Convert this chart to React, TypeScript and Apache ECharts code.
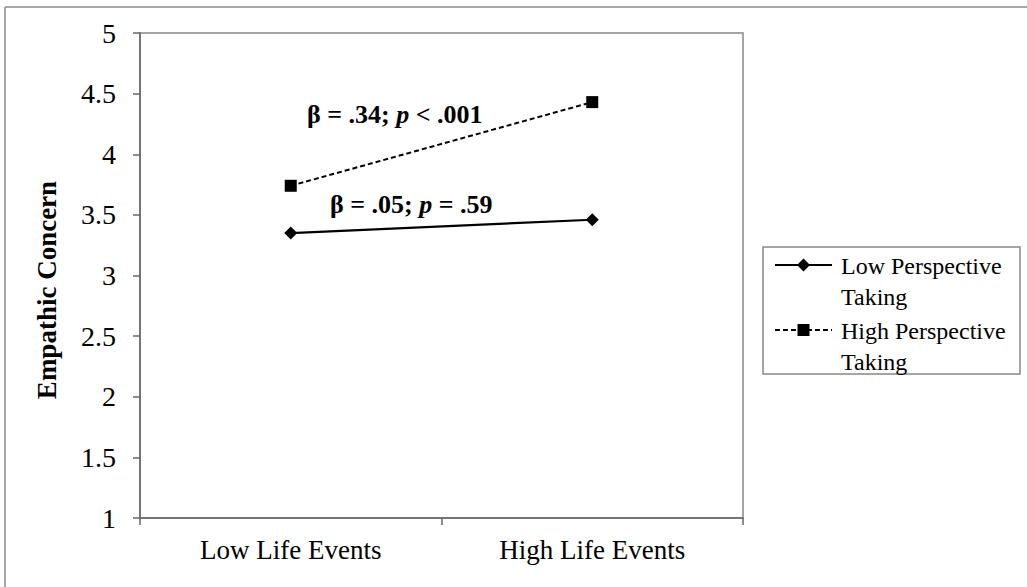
import React, { useEffect, useRef } from "react";
import * as echarts from "echarts";

const categories = ["Low Life Events", "High Life Events"];
const seriesNames = ["Low Perspective Taking", "High Perspective Taking"];
const legendLines = [["Low Perspective", "Taking"], ["High Perspective", "Taking"]];
const lowPT = [3.35, 3.46];
const highPT = [3.74, 4.43];
const yMin = 1;
const yMax = 5;
const yStep = 0.5;
const yAxisTitle = "Empathic Concern";
const annotations = [
  { beta: ".34", op: "<", p: ".001" },
  { beta: ".05", op: "=", p: ".59" },
];

const FONT = "'Liberation Serif', 'Times New Roman', serif";

export default function App() {
  const ref = useRef<HTMLDivElement>(null);
  useEffect(() => {
    if (!ref.current) return;
    const chart = echarts.init(ref.current, null, { renderer: "svg" });
    const rich = {
      b: { fontFamily: FONT, fontWeight: "bold", fontSize: 26, color: "#000" },
      i: { fontFamily: FONT, fontWeight: "bold", fontStyle: "italic", fontSize: 26, color: "#000" },
    };
    const annText = (a: { beta: string; op: string; p: string }) =>
      `{b|β = ${a.beta}; }{i|p}{b| ${a.op} ${a.p}}`;

    const legendX = 763;
    const legendY = 247;
    const rowY = [265, 330];
    const graphic: any[] = [
      { type: "line", shape: { x1: 5, y1: 7, x2: 1027, y2: 7 }, style: { stroke: "#888", lineWidth: 1.5 }, silent: true },
      { type: "line", shape: { x1: 5, y1: 7, x2: 5, y2: 587 }, style: { stroke: "#888", lineWidth: 1.5 }, silent: true },
      {
        type: "text",
        x: 47,
        y: 290,
        rotation: Math.PI / 2,
        style: {
          text: yAxisTitle,
          fontFamily: FONT,
          fontWeight: "bold",
          fontSize: 27,
          fill: "#000",
          align: "center",
          verticalAlign: "middle",
        },
      },
      {
        type: "text",
        x: 307,
        y: 114,
        style: { text: annText(annotations[0]), rich, verticalAlign: "middle", align: "left" },
      },
      {
        type: "text",
        x: 330,
        y: 204,
        style: { text: annText(annotations[1]), rich, verticalAlign: "middle", align: "left" },
      },
      {
        type: "rect",
        shape: { x: legendX, y: legendY, width: 257, height: 127 },
        style: { fill: "#fff", stroke: "#888", lineWidth: 1.5 },
      },
      { type: "line", shape: { x1: 775, y1: rowY[0], x2: 832, y2: rowY[0] }, style: { stroke: "#000", lineWidth: 2 } },
      {
        type: "polygon",
        shape: { points: [[803.5, rowY[0] - 6.5], [810, rowY[0]], [803.5, rowY[0] + 6.5], [797, rowY[0]]] },
        style: { fill: "#000" },
      },
      {
        type: "line",
        shape: { x1: 775, y1: rowY[1], x2: 832, y2: rowY[1] },
        style: { stroke: "#000", lineWidth: 2, lineDash: [5, 3] },
      },
      { type: "rect", shape: { x: 797.5, y: rowY[1] - 6, width: 12, height: 12 }, style: { fill: "#000" } },
    ];
    legendLines.forEach((lines, idx) => {
      lines.forEach((t, j) => {
        graphic.push({
          type: "text",
          x: 841,
          y: rowY[idx] + 1 + j * 31,
          style: { text: t, fontFamily: FONT, fontSize: 24, fill: "#000", verticalAlign: "middle", align: "left" },
        });
      });
    });

    chart.setOption({
      animation: false,
      backgroundColor: "#fff",
      grid: {
        left: 140,
        top: 33,
        right: 284,
        bottom: 69,
        show: true,
        borderColor: "#888",
        borderWidth: 1.5,
        backgroundColor: "transparent",
      },
      xAxis: {
        type: "category",
        data: categories,
        boundaryGap: true,
        axisLine: { show: true, lineStyle: { color: "#666", width: 1.5 } },
        axisTick: { show: true, length: 7, lineStyle: { color: "#666", width: 1.5 } },
        axisLabel: { fontFamily: FONT, fontSize: 27, color: "#000", margin: 18 },
        splitLine: { show: false },
      },
      yAxis: {
        type: "value",
        min: yMin,
        max: yMax,
        interval: yStep,
        axisLine: { show: true, lineStyle: { color: "#666", width: 1.5 } },
        axisTick: { show: true, length: 7, lineStyle: { color: "#666", width: 1.5 } },
        axisLabel: { fontFamily: FONT, fontSize: 28, color: "#000", margin: 24 },
        splitLine: { show: false },
      },
      series: [
        {
          name: seriesNames[0],
          type: "line",
          data: lowPT,
          symbol: "diamond",
          symbolSize: 13,
          itemStyle: { color: "#000" },
          lineStyle: { color: "#000", width: 2.2 },
        },
        {
          name: seriesNames[1],
          type: "line",
          data: highPT,
          symbol: "rect",
          symbolSize: 12,
          itemStyle: { color: "#000" },
          lineStyle: { color: "#000", width: 2, type: [5, 3] },
        },
      ],
      graphic,
    });
    return () => chart.dispose();
  }, []);
  return <div ref={ref} style={{ width: 1027, height: 587, position: "absolute", left: 0, top: 0 }} />;
}
